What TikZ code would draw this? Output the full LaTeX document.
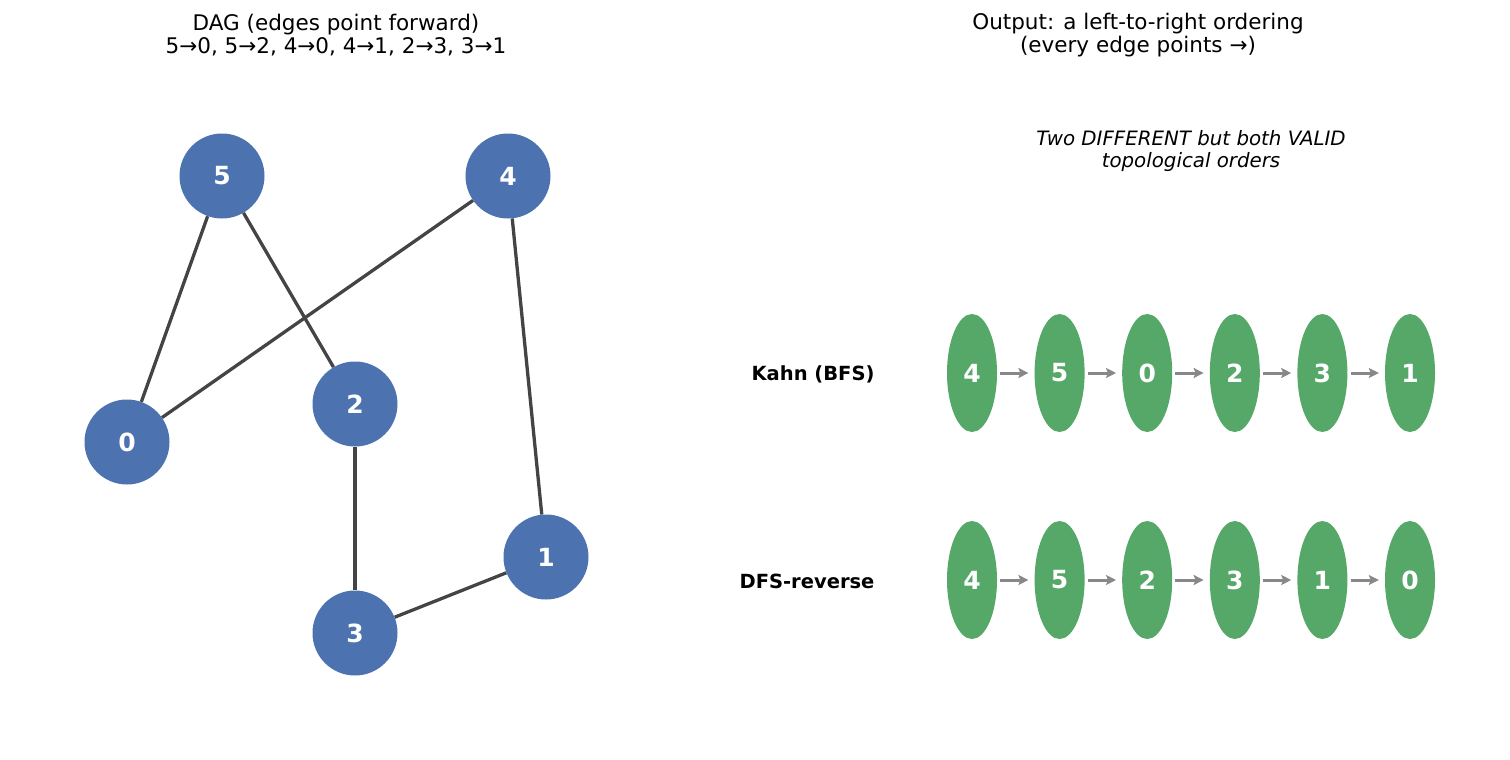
\documentclass[tikz,border=0pt]{standalone}
\usepackage{fontspec}
\setmainfont{DejaVu Sans}
\usetikzlibrary{shapes.geometric,arrows.meta}
\definecolor{nodeblue}{HTML}{4C72B0}
\definecolor{nodegreen}{HTML}{55A868}
\definecolor{edgegray}{HTML}{444444}
\definecolor{arrowgray}{HTML}{888888}
\tikzset{
  dagnode/.style={circle,fill=nodeblue,minimum size=85pt,inner sep=0pt,text=white,font=\fontsize{25}{30}\selectfont\bfseries},
  ordnode/.style={ellipse,fill=nodegreen,minimum width=50pt,minimum height=118pt,inner sep=0pt,text=white,font=\fontsize{25}{30}\selectfont\bfseries},
  dagedge/.style={draw=edgegray,line width=3.3pt},
  ordarrow/.style={draw=arrowgray,line width=3pt,-{Stealth[length=10pt,width=10pt,inset=2pt]},shorten <=3pt,shorten >=6pt},
  titletext/.style={align=center,font=\fontsize{21.5}{23.5}\selectfont},
  rowlabel/.style={anchor=east,font=\fontsize{19.5}{24}\selectfont\bfseries},
}
\begin{document}
\begin{tikzpicture}[x=1pt,y=-1pt]
\useasboundingbox (0,0) rectangle (1510,760);
% titles
\node[titletext] (t1) at (336,35) {DAG (edges point forward)\\5→0, 5→2, 4→0, 4→1, 2→3, 3→1};
\node[titletext] (t2) at (1138,35) {Output: a left-to-right ordering\\(every edge points →)};
\node[align=center,font=\fontsize{19.8}{22}\selectfont\itshape] (t3) at (1191,151) {Two DIFFERENT but both VALID\\topological orders};
% DAG
\node[dagnode] (n5) at (222,176) {5};
\node[dagnode] (n4) at (508,176) {4};
\node[dagnode] (n2) at (355,404) {2};
\node[dagnode] (n0) at (127,442) {0};
\node[dagnode] (n1) at (546,557) {1};
\node[dagnode] (n3) at (355,633) {3};
\draw[dagedge] (n5) -- (n0);
\draw[dagedge] (n5) -- (n2);
\draw[dagedge] (n4) -- (n0);
\draw[dagedge] (n4) -- (n1);
\draw[dagedge] (n2) -- (n3);
\draw[dagedge] (n3) -- (n1);
% rows
\node[rowlabel] (lk) at (878,374) {Kahn (BFS)};
\node[rowlabel] (ld) at (878,581) {DFS-reverse};
\foreach \lab [count=\i] in {4,5,0,2,3,1} {
  \node[ordnode] (k\i) at ({972+87.6*(\i-1)},373) {\lab};
}
\foreach \lab [count=\i] in {4,5,2,3,1,0} {
  \node[ordnode] (d\i) at ({972+87.6*(\i-1)},580) {\lab};
}
\foreach \i [evaluate=\i as \j using int(\i+1)] in {1,...,5} {
  \draw[ordarrow] (k\i) -- (k\j);
  \draw[ordarrow] (d\i) -- (d\j);
}
\end{tikzpicture}
\end{document}
